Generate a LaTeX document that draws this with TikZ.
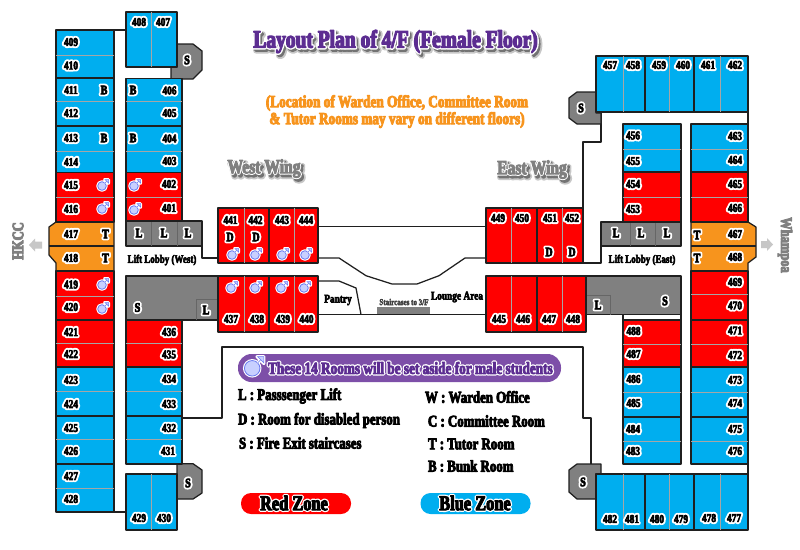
\documentclass[tikz,border=0pt]{standalone}
\usepackage{fontspec}
\setmainfont[FakeStretch=0.78]{Liberation Serif}
\definecolor{rz}{HTML}{FF0000}
\definecolor{bz}{HTML}{00AEEF}
\definecolor{oz}{HTML}{F7941D}
\definecolor{gz}{HTML}{808080}
\definecolor{pz}{HTML}{5C2D91}
\definecolor{lz}{HTML}{7D4FA8}
\definecolor{mf}{HTML}{C8D0FF}
\definecolor{ms}{HTML}{6A7AF0}
% stroked text: colour, stroke width, text
\newcommand\layer[3]{{\color{#1}\special{pdf:code 2 Tr #2 w 1 j 1 J}#3\special{pdf:code 0 Tr 0 j 0 J}}}
\newcommand\halo[4]{\leavevmode\rlap{\layer{white}{#1}{#4}}\layer{#2}{#3}{#4}}
\newcommand\shad[4]{\leavevmode\rlap{\kern2.5pt\raisebox{-3pt}{\layer{black!22}{6}{#4}}}\rlap{\kern2pt\raisebox{-2.5pt}{\layer{black!55}{3.4}{#4}}}\rlap{\layer{white}{#1}{#4}}\layer{#2}{#3}{#4}}
\tikzset{
  wall/.style={draw=black!88,line width=1.25pt,line join=round},
  thinl/.style={draw=black!35,line width=0.45pt},
  lbl/.style={inner sep=0pt,outer sep=0pt,font=\bfseries},
  rm/.style={lbl,font=\bfseries\fontsize{12}{12}\selectfont},
  sm/.style={lbl,font=\bfseries\fontsize{13}{13}\selectfont},
  legend/.style={lbl,anchor=west,font=\bfseries\fontsize{16.5}{16.5}\selectfont},
  arr/.style={fill=black!22,draw=none},
  maleicon/.pic={
    \draw[white,line width=3pt,line cap=round,line join=round] (-1,1) circle (4.3) (1.6,-1.6) -- (5,-5) (1.6,-5.5) -- (5.5,-5.5) -- (5.5,-1.6) -- cycle;
    \draw[ms,line width=0.8pt,fill=mf] (-1,1) circle (4.3);
    \draw[white,line width=1.6pt] (2,-2) -- (4.6,-4.6);
    \draw[ms,line width=0.5pt] (2,-2) -- (5,-5);
    \draw[ms,line width=0.5pt,fill=mf] (2,-5.5) -- (5.5,-5.5) -- (5.5,-2) -- cycle;
  }
}
\begin{document}
\begin{tikzpicture}[x=1pt,y=-1pt]
\path[use as bounding box,fill=white] (0,0) rectangle (800,549);
% connecting walls
\draw[wall] (114,30) -- (126,30);
\draw[wall] (114,512) -- (126,512);
\draw[wall] (202,246) -- (202,258) -- (218,258);
\draw[wall] (182,418) -- (222,418) -- (222,347) -- (583,347) -- (583,418) -- (591,418) -- (591,464);
\draw[wall] (318,226.7) -- (486,226.7);
\draw[wall] (318,258) -- (339,258) -- (366,275.7) -- (392,284) -- (417,284) -- (439,275.7) -- (465,258) -- (486,258);
\draw[wall] (318,281) -- (339,281) -- (356,288) -- (361,314.5);
\draw[wall] (318,314.5) -- (486,314.5);
\draw[wall] (583,208) -- (583,142) -- (601,142) -- (601,113);
\draw[wall] (583,263) -- (601,263) -- (601,246);
\draw[wall] (748,112) -- (748,124);
\draw[wall] (748,464) -- (748,474);
\draw[wall] (623,314) -- (623,320);
\draw[wall] (681,314) -- (681,320);
% stair and fire exit blocks
\fill[gz] (377,307) rectangle (430,314);
\draw[wall,fill=gz] (177,44) -- (193,44) -- (202,51) -- (202,70) -- (193,79) -- (171,79) -- (171,67) -- (177,67) -- cycle;
\draw[wall,fill=gz] (177,463.7) -- (193,463.7) -- (202,470) -- (202,493) -- (193,499) -- (177,499) -- cycle;
\draw[wall,fill=gz] (596,92) -- (577,92) -- (569,98) -- (569,118) -- (577,124) -- (601,124) -- (601,113) -- (596,113) -- cycle;
\draw[wall,fill=gz] (601,464) -- (577,464) -- (569,470) -- (569,492) -- (577,499) -- (596,499) -- (596,474) -- (601,474) -- cycle;
% orange tutor rooms
\draw[wall,fill=oz] (56,222) -- (49,227) -- (49,255) -- (56,263) -- (56,271) -- (114,271) -- (114,222) -- cycle;
\draw[wall] (49,246) -- (114,246);
\draw[wall,fill=oz] (748,222) -- (756,227) -- (756,257) -- (748,263) -- (748,271) -- (691,271) -- (691,222) -- cycle;
\draw[wall] (691,246) -- (756,246);
% gray lift and service blocks
\draw[wall,fill=gz] (126,221) rectangle (202,246);
\draw[wall,fill=gz] (601,222) rectangle (681,246);
\draw[wall,fill=gz] (126,276) rectangle (218,320);
\draw[wall,fill=gz] (586,276) rectangle (681,314.5);
\foreach \xa/\ya/\xb/\yb in {151/221/151/246,177/221/177/246,630/222/630/246,655/222/655/246,196/320/196/299,196/299/218/299,586/295/610/295,610/295/610/314.5}
  \draw[draw=black!60,line width=0.7pt] (\xa,\ya) -- (\xb,\yb);
% room blocks
\foreach \xa/\ya/\xb/\yb/\c in {
  56/30/114/78/bz,56/78/114/126/bz,56/126/114/172.7/bz,56/172.7/114/222/rz,
  56/271/114/320/rz,56/320/114/367/rz,56/367/114/416/bz,56/416/114/464/bz,56/464/114/512/bz,
  126/12/177/67/bz,126/474/177/530/bz,
  126/78.5/182/126/bz,126/126/182/172.7/bz,126/172.7/182/221/rz,
  126/320/182/367/rz,126/367/182/416/bz,126/416/182/464/bz,
  218/208/269/263/rz,269/208/318/263/rz,218/276/269/332/rz,269/276/318/332/rz,
  486/208/537/263/rz,537/208/583/263/rz,486/276/537/332/rz,537/276/586/332/rz,
  596/56/645/112/bz,645/56/694/112/bz,694/56/748/112/bz,
  596/474/645/530/bz,645/474/694/530/bz,694/474/748/530/bz,
  623/124/681/172/bz,623/172/681/222/rz,623/320/681/367/rz,623/367/681/417/bz,623/417/681/464/bz,
  691/124/748/172/bz,691/172/748/222/rz,691/271/748/320/rz,691/320/748/367/rz,691/367/748/417/bz,691/417/748/464/bz}
  \draw[wall,fill=\c] (\xa,\ya) rectangle (\xb,\yb);
% thin partitions
\foreach \y in {55,101.5,151,197.5,296,343,391,439,488} \draw[thinl] (56,\y) -- (114,\y);
\foreach \y in {101.7,151.7,197,343,391,439} \draw[thinl] (126,\y) -- (182,\y);
\foreach \y in {149,197,344,392,441} \draw[thinl] (623,\y) -- (681,\y);
\foreach \y in {149,197,294,344,392,441} \draw[thinl] (691,\y) -- (748,\y);
\draw[thinl] (151,12) -- (151,67);
\draw[thinl] (151,474) -- (151,530);
\foreach \x in {244,294} {\draw[thinl] (\x,208) -- (\x,263); \draw[thinl] (\x,276) -- (\x,332);}
\foreach \x in {511,562} {\draw[thinl] (\x,208) -- (\x,263); \draw[thinl] (\x,276) -- (\x,332);}
\foreach \x in {623,669,720} {\draw[thinl] (\x,56) -- (\x,112); \draw[thinl] (\x,474) -- (\x,530);}
% arrows
\fill[arr] (29,245) -- (35,238.5) -- (35,241.5) -- (42,241.5) -- (42,248.5) -- (35,248.5) -- (35,251.5) -- cycle;
\fill[arr] (773,244.5) -- (767,238) -- (767,241) -- (761,241) -- (761,248) -- (767,248) -- (767,251) -- cycle;
% room numbers
\foreach \n/\x/\y in {
  409/71/42,410/71/65.5,411/71/90,412/71/113,413/71/138,414/71/162,415/71/185,416/71/209,417/71/234,418/71/258,
  419/71/284.5,420/71/307,421/71/332,422/71/354,423/71/380,424/71/404,425/71/428,426/71/451,427/71/476,428/71/499,
  406/169.5/90.5,405/169.5/113,404/169.5/138.5,403/169.5/161,402/169/184,401/169/208,
  408/139/22,407/163/22,436/169/332,435/169/354.5,434/169/379,433/169/404,432/169/428,431/168/451,429/139/518,430/164/518,
  441/230.5/220,442/255.5/220,443/282/220,444/306/220,437/231/319,438/257/319,439/283/319,440/306.5/319,
  449/498/218,450/522/218,451/550/218,452/572/218,445/499/319,446/523/319,447/549/319,448/573/319,
  457/610/65,458/633/65,459/659/65,460/683/65,461/708/65,462/735/65,
  456/633/135.5,455/633/161,454/633/184,453/633/209,488/633.5/331,487/633.5/354,486/633.5/379,485/633.5/403,484/633/429,483/633/451,
  463/735/136,464/735/160,465/735/184,466/735/208,467/735/234,468/735/257,469/735/282,470/735/305.5,471/735/330.5,472/735/355,473/735/380,474/735/403,475/735/429,476/735/451,
  482/610/519,481/632/519,480/657/519,479/681/519,478/709/518,477/734/518}
  \node[rm] (r\n) at (\x,\y) {\halo{4.4}{black}{0.55}{\n}};
% letter marks
\foreach \t/\x/\y/\i in {
  B/104/90/a,B/104/138/b,B/133/90/c,B/133/138/d,
  T/105.5/234/e,T/105.5/258/f,T/697/235/g,T/697/258/h,
  L/139/233/i,L/164/233/j,L/188/233/k,L/616/233/l,L/641/233/m,L/667/233/n,L/206/310/o,L/598/305/p,
  S/187/60/q,S/188/483/r,S/137.5/307.5/s,S/581/108/t,S/583/482/u,S/665/301/v,
  D/230/237/w,D/256/237/x,D/549/252/y,D/572/252/z}
  \node[sm] (m\i) at (\x,\y) {\halo{4.4}{black}{0.7}{\t}};
% male symbols
\foreach \x/\y in {103/185,103/208,103/284,103/308,135/185,135/209,233/254,256/254,283/254,306/254,232/287,256/287,282/287,305/287}
  \pic at (\x,\y) {maleicon};
% headings
\node[lbl,font=\bfseries\fontsize{25}{25}\selectfont] (title) at (395.5,43) {\shad{4}{pz}{1.2}{Layout Plan of 4/F (Female Floor)}};
\node[lbl,font=\bfseries\fontsize{17}{17}\selectfont] (sub1) at (397,103) {\layer{oz}{0.9}{(Location of Warden Office, Committee Room}};
\node[lbl,font=\bfseries\fontsize{17}{17}\selectfont] (sub2) at (397,120) {\layer{oz}{0.9}{\& Tutor Rooms may vary on different floors)}};
\node[lbl,font=\bfseries\fontsize{20}{20}\selectfont] (west) at (264,170) {\shad{3}{gz}{1}{West Wing}};
\node[lbl,font=\bfseries\fontsize{20}{20}\selectfont] (east) at (532,171) {\shad{3}{gz}{1}{East Wing}};
\node[lbl,rotate=90,font=\bfseries\fontsize{16}{16}\selectfont] (hkcc) at (18,241) {\layer{gz}{1}{HKCC}};
\node[lbl,rotate=-90,font=\bfseries\fontsize{16}{16}\selectfont] (wham) at (785,245) {\layer{gz}{0.9}{Whampoa}};
\node[lbl,font=\bfseries\fontsize{11.5}{11.5}\selectfont] (llw) at (162,260) {\layer{black}{0.5}{Lift Lobby (West)}};
\node[lbl,font=\bfseries\fontsize{11.5}{11.5}\selectfont] (lle) at (642,260) {\layer{black}{0.5}{Lift Lobby (East)}};
\node[lbl,font=\bfseries\fontsize{12}{12}\selectfont] (pantry) at (338,300) {\layer{black}{0.5}{Pantry}};
\node[lbl,font=\bfseries\fontsize{9}{9}\selectfont] (stairs) at (404,302) {\layer{black!75}{0.35}{Staircases to 3/F}};
\node[lbl,font=\bfseries\fontsize{12}{12}\selectfont] (lounge) at (457,297) {\layer{black}{0.5}{Lounge Area}};
% legend
\node[fill=lz,rounded corners=13.5pt,minimum width=323pt,minimum height=28pt,inner sep=0pt] (pill) at (399.5,368) {};
\pic[scale=1.8] at (254,366.5) {maleicon};
\node[lbl,font=\bfseries\fontsize{17}{17}\selectfont,anchor=west] (pilltxt) at (268,368) {\halo{3.4}{pz}{0.8}{These 14 Rooms will be set aside for male students}};
\node[legend] (k1) at (238,396) {\layer{black}{0.8}{L : Passsenger Lift}};
\node[legend] (k2) at (238,420.5) {\layer{black}{0.8}{D : Room for disabled person}};
\node[legend] (k3) at (239,443) {\layer{black}{0.8}{S : Fire Exit staircases}};
\node[legend] (k4) at (425,397) {\layer{black}{0.8}{W : Warden Office}};
\node[legend] (k5) at (428,421) {\layer{black}{0.8}{C : Committee Room}};
\node[legend] (k6) at (428,444) {\layer{black}{0.8}{T : Tutor Room}};
\node[legend] (k7) at (428,466) {\layer{black}{0.8}{B : Bunk Room}};
\node[fill=rz,rounded corners=10pt,minimum width=110pt,minimum height=21pt,inner sep=0pt] (redp) at (296,503.5) {};
\node[fill=bz,rounded corners=10pt,minimum width=110pt,minimum height=21pt,inner sep=0pt] (bluep) at (475.5,503.5) {};
\node[lbl,font=\bfseries\fontsize{21}{21}\selectfont] (redt) at (294,503) {\halo{3.6}{black}{1}{Red Zone}};
\node[lbl,font=\bfseries\fontsize{21}{21}\selectfont] (bluet) at (475,503) {\halo{3.6}{black}{1}{Blue Zone}};
\end{tikzpicture}
\end{document}
